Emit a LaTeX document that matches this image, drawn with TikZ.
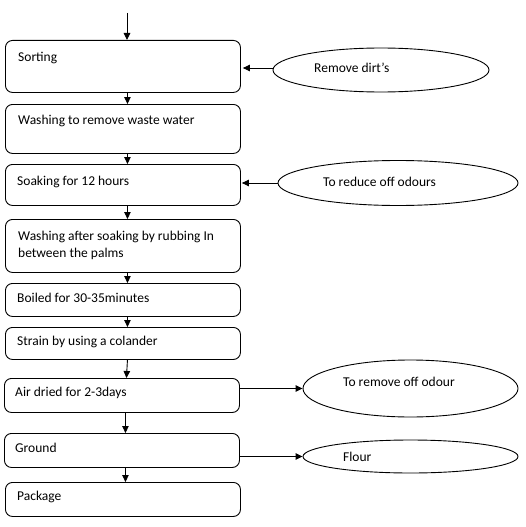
\documentclass[tikz,border=0pt]{standalone}
\usepackage{fontspec}
\setmainfont{Carlito}
\usetikzlibrary{shapes.geometric,arrows.meta}
\begin{document}
\begin{tikzpicture}[x=1pt,y=-1pt,
  box/.style={draw,line width=0.9pt,rounded corners=7pt,anchor=north west,minimum width=235pt,inner sep=0pt},
  oval/.style={draw,line width=0.9pt,ellipse,inner sep=0pt},
  txt/.style={anchor=base west,inner sep=0pt,font=\fontsize{13.5}{17}\selectfont},
  arr/.style={line width=0.9pt,-{Triangle[length=7pt,width=6.5pt]}}]
\useasboundingbox (0,0) rectangle (526,527);
% boxes
\node[box,minimum height=52pt] (b1) at (5,40) {};
\node[box,minimum height=49pt] (b2) at (5,104) {};
\node[box,minimum height=41pt] (b3) at (5,164) {};
\node[box,minimum height=53pt] (b4) at (5,219) {};
\node[box,minimum height=33pt] (b5) at (5,283) {};
\node[box,minimum height=32pt] (b6) at (5,327) {};
\node[box,minimum height=34pt] (b7) at (4,378) {};
\node[box,minimum height=34pt] (b8) at (4,433) {};
\node[box,minimum height=34pt] (b9) at (5,482) {};
% texts
\node[txt] (t1) at (18,61) {Sorting};
\node[txt] (t2) at (18,124) {Washing to remove waste water};
\node[txt] (t3) at (17,185) {Soaking for 12 hours};
\node[txt] (t4a) at (18,240) {Washing after soaking by rubbing In};
\node[txt] (t4b) at (18,257) {between the palms};
\node[txt] (t5) at (17,302) {Boiled for 30-35minutes};
\node[txt] (t6) at (17,345) {Strain by using a colander};
\node[txt] (t7) at (15,396) {Air dried for 2-3days};
\node[txt] (t8) at (15,452) {Ground};
\node[txt] (t9) at (17,500) {Package};
% ellipses
\node[oval,minimum width=216pt,minimum height=44pt] (e1) at (381,70) {};
\node[oval,minimum width=240pt,minimum height=45pt] (e2) at (398,183) {};
\node[oval,minimum width=215pt,minimum height=57pt] (e3) at (410.5,388.5) {};
\node[oval,minimum width=215pt,minimum height=33pt] (e4) at (410.5,456.5) {};
\node[txt] (s1) at (314,72) {Remove dirt’s};
\node[txt] (s2) at (323,186) {To reduce off odours};
\node[txt] (s3) at (343,386) {To remove off odour};
\node[txt] (s4) at (343,461) {Flour};
% arrows
\coordinate (start) at (127,13);
\draw[arr] (start) -- (start |- b1.north);
\draw[arr] ([xshift=4.5pt]b1.south) -- ([xshift=4.5pt]b2.north);
\draw[arr] ([xshift=4.5pt]b2.south) -- ([xshift=4.5pt]b3.north);
\draw[arr] ([xshift=4.5pt]b3.south) -- ([xshift=4.5pt]b4.north);
\draw[arr] ([xshift=4.5pt]b4.south) -- ([xshift=4.5pt]b5.north);
\draw[arr] ([xshift=4.5pt]b5.south) -- ([xshift=4.5pt]b6.north);
\draw[arr] ([xshift=4.5pt]b6.south) -- ([xshift=4.5pt]b7.north);
\draw[arr] ([xshift=3.5pt]b7.south) -- ([xshift=3.5pt]b8.north);
\draw[arr] ([xshift=3.5pt]b8.south) -- ([xshift=2.5pt]b9.north);
\draw[arr] ([yshift=2pt]e1.west) -- ([xshift=2pt,yshift=2pt]e1.west -| b1.east);
\draw[arr] (e2.west) -- ([xshift=1pt]e2.west -| b3.east);
\draw[arr] (e3.west -| b7.east) -- (e3.west);
\draw[arr] (e4.west -| b8.east) -- (e4.west);
\end{tikzpicture}
\end{document}
